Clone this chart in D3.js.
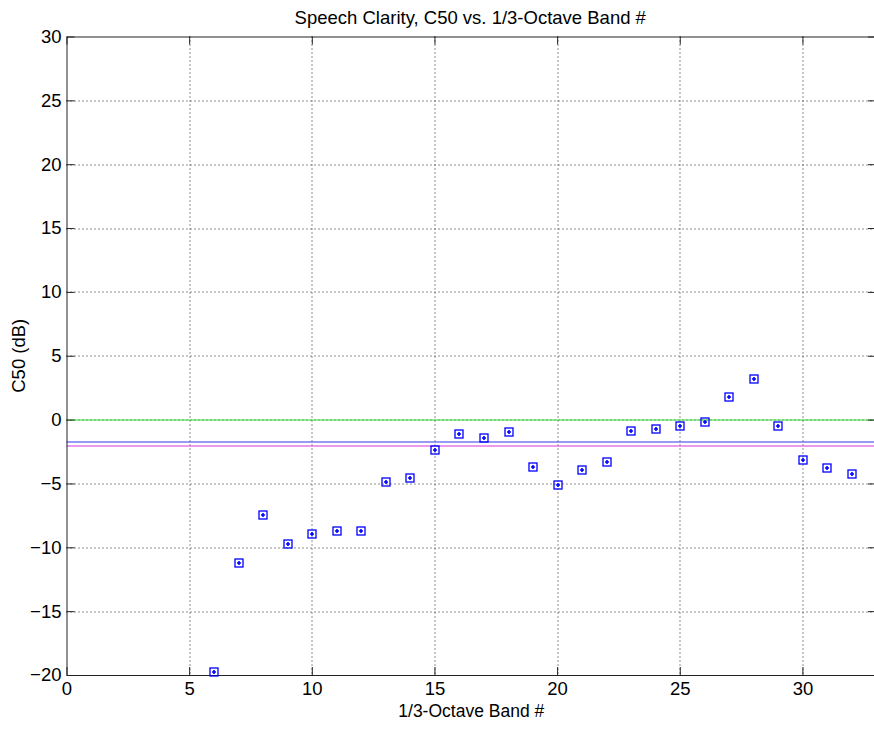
<!DOCTYPE html>
<html>
<head>
<meta charset="utf-8">
<script src="https://cdn.jsdelivr.net/npm/d3@7"></script>
<style>
  body { margin: 0; background: #fff; }
  svg { display: block; font-family: "Liberation Sans", Arial, sans-serif; }
</style>
</head>
<body>
<div class="container"></div>
<script>
// band numbers and C50 values
const bands = [6, 7, 8, 9, 10, 11, 12, 13, 14, 15, 16, 17, 18, 19, 20,
               21, 22, 23, 24, 25, 26, 27, 28, 29, 30, 31, 32];
const c50 = [-19.71, -11.19, -7.41, -9.73, -8.92, -8.69, -8.69, -4.82, -4.56, -2.31,
             -1.08, -1.37, -0.95, -3.67, -5.11, -3.93, -3.25, -0.87, -0.67, -0.46,
             -0.12, 1.79, 3.20, -0.46, -3.12, -3.72, -4.22];
const xTicks = [0, 5, 10, 15, 20, 25, 30];
const yTicks = [-20, -15, -10, -5, 0, 5, 10, 15, 20, 25, 30];
// horizontal reference lines: zero, mean, and lower reference
const refValues = [0, -1.7, -2.0];
const refColors = ["#33dd33", "#3333ee", "#dd33dd"];

const margin = { top: 36.5, right: -2, bottom: 54, left: 66.5 },
    width = 874 - margin.left - margin.right,
    height = 729 - margin.top - margin.bottom;

const svg = d3.select(".container")
    .append("svg")
    .attr("width", 874)
    .attr("height", 729)
    .append("g")
    .attr("transform", `translate(${margin.left}, ${margin.top})`);

const x = d3.scaleLinear().domain([0, 33]).range([0, width]);
const y = d3.scaleLinear().domain([-20, 30]).range([height, 0]);

// grid
svg.append("g")
    .selectAll("line")
    .data(xTicks.slice(1))
    .enter()
    .append("line")
    .attr("x1", d => Math.round(x(d)) + 0.5)
    .attr("x2", d => Math.round(x(d)) + 0.5)
    .attr("y1", 0)
    .attr("y2", height)
    .attr("stroke", "#222")
    .attr("stroke-dasharray", "1,3");

svg.append("g")
    .selectAll("line")
    .data(yTicks.slice(1, -1))
    .enter()
    .append("line")
    .attr("x1", 0)
    .attr("x2", width)
    .attr("y1", d => Math.round(y(d)) + 0.5)
    .attr("y2", d => Math.round(y(d)) + 0.5)
    .attr("stroke", "#222")
    .attr("stroke-dasharray", "1,3");

// reference lines
svg.append("g")
    .selectAll("line")
    .data(refValues)
    .enter()
    .append("line")
    .attr("x1", 0)
    .attr("x2", width)
    .attr("y1", d => Math.round(y(d)) + 0.5)
    .attr("y2", d => Math.round(y(d)) + 0.5)
    .attr("stroke", (d, i) => refColors[i])
    .attr("stroke-width", 1);

// axes, ticks inward
const xAxis = d3.axisBottom(x).tickValues(xTicks).tickSizeInner(-8).tickSizeOuter(0).tickPadding(7);
const yAxis = d3.axisLeft(y).tickValues(yTicks).tickSizeInner(-8).tickSizeOuter(0).tickPadding(5);

svg.append("g")
    .attr("transform", `translate(0, ${height})`)
    .call(xAxis)
    .call(g => g.selectAll("text").attr("font-size", 18.5).attr("fill", "#000"));

svg.append("g")
    .call(yAxis)
    .call(g => g.selectAll("text").attr("font-size", 18.5).attr("fill", "#000"));

svg.append("g")
    .call(d3.axisTop(x).tickValues(xTicks).tickSizeInner(-8).tickSizeOuter(0).tickFormat(""));
svg.append("g")
    .attr("transform", `translate(${width}, 0)`)
    .call(d3.axisRight(y).tickValues(yTicks).tickSizeInner(-8).tickSizeOuter(0).tickFormat(""));

svg.selectAll(".domain").attr("stroke", "#222");
svg.selectAll(".tick line").attr("stroke", "#222");

// markers
const pts = svg.append("g")
    .selectAll("g")
    .data(bands)
    .enter()
    .append("g")
    .attr("transform", (d, i) => `translate(${Math.round(x(d)) + 0.5}, ${Math.round(y(c50[i])) + 0.5})`);

pts.append("rect")
    .attr("x", -4)
    .attr("y", -4)
    .attr("width", 8)
    .attr("height", 8)
    .attr("fill", "none")
    .attr("stroke", "#0000ff")
    .attr("stroke-width", 1.3);

pts.append("path")
    .attr("d", "M-2,0H2M0,-2V2")
    .attr("stroke", "#0000ff")
    .attr("stroke-width", 1.6);

// labels
svg.append("text")
    .attr("x", width / 2 - 1)
    .attr("y", -13)
    .attr("text-anchor", "middle")
    .attr("font-size", 18.5)
    .text("Speech Clarity, C50 vs. 1/3-Octave Band #");

svg.append("text")
    .attr("x", x(16.5))
    .attr("y", height + 42)
    .attr("text-anchor", "middle")
    .attr("font-size", 17.5)
    .text("1/3-Octave Band #");

svg.append("text")
    .attr("transform", `translate(${25 - margin.left}, ${height / 2}) rotate(-90)`)
    .attr("text-anchor", "middle")
    .attr("font-size", 18.5)
    .text("C50 (dB)");
</script>
</body>
</html>
